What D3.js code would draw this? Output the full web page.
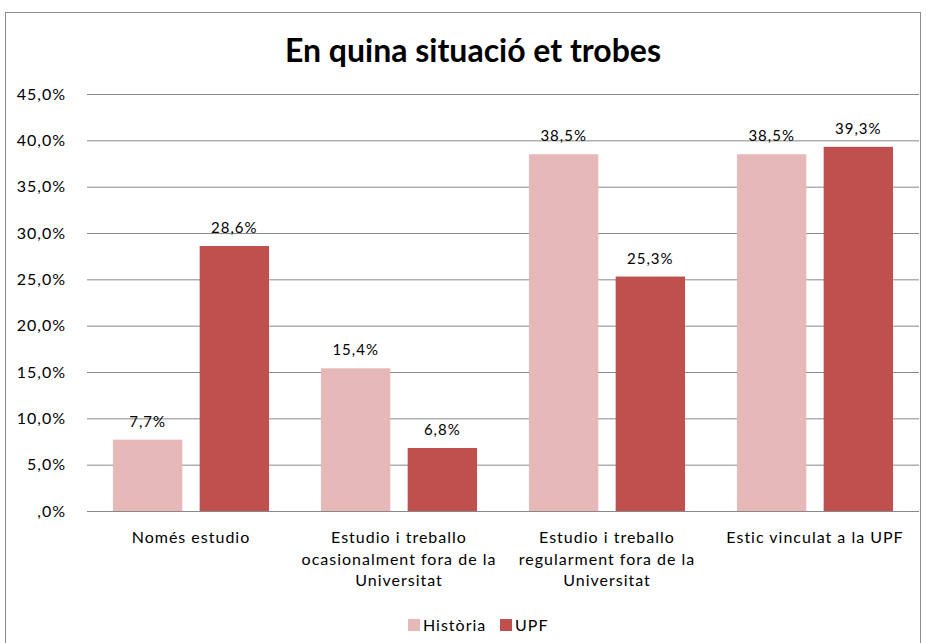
<!DOCTYPE html>
<html>
<head>
<meta charset="utf-8">
<script src="https://cdn.jsdelivr.net/npm/d3@7"></script>
<style>
  body { margin: 0; background: #fff; }
  text { font-family: Lato, "Open Sans", sans-serif; fill: #000; }
</style>
</head>
<body>
<div id="chart"></div>
<script>
// Data
const categories = [
  ["Només estudio"],
  ["Estudio i treballo", "ocasionalment fora de la", "Universitat"],
  ["Estudio i treballo", "regularment fora de la", "Universitat"],
  ["Estic vinculat a la UPF"]
];
const series = ["Història", "UPF"];
const historia = [7.7, 15.4, 38.5, 38.5];
const upf = [28.6, 6.8, 25.3, 39.3];
const yTicks = [0, 5, 10, 15, 20, 25, 30, 35, 40, 45];
const colors = ["#e6b9b8", "#c0504d"];

const width = 926, height = 643;
const margin = { left: 87, right: 7, top: 94, bottom: 132 };

const svg = d3.select("#chart").append("svg")
  .attr("width", width)
  .attr("height", height);

// frame
svg.append("rect")
  .attr("x", 5.5).attr("y", 12.5)
  .attr("width", 915).attr("height", 640)
  .attr("fill", "none").attr("stroke", "#8c8c8c");

svg.append("text")
  .attr("x", 473).attr("y", 62)
  .attr("text-anchor", "middle")
  .attr("font-size", 32)
  .attr("font-weight", "bold")
  .text("En quina situació et trobes");

var x = d3.scaleBand()
  .domain(d3.range(categories.length))
  .range([margin.left, width - margin.right]);

var x1 = d3.scaleBand()
  .domain(series)
  .range([0, x.bandwidth()])
  .paddingInner(0.2)
  .paddingOuter(0.3);

var y = d3.scaleLinear()
  .domain([0, 45])
  .range([height - margin.bottom, margin.top]);

// gridlines + y labels
var yAxis = svg.append("g")
  .attr("transform", "translate(" + margin.left + ",0)")
  .call(d3.axisLeft(y)
    .tickValues(yTicks)
    .tickSize(-(width - margin.left - margin.right))
    .tickPadding(21)
    .tickFormat(d => (d === 0 ? "" : d) + ",0%"));
yAxis.select(".domain").remove();
yAxis.selectAll(".tick line").attr("stroke", "#888");
yAxis.selectAll(".tick text")
  .attr("font-size", 16)
  .attr("letter-spacing", 1)
  .attr("fill", "#000");

var data = categories.map((c, i) => ({ i: i, vals: [historia[i], upf[i]] }));

var groups = svg.selectAll("g.cat")
  .data(data)
  .enter()
  .append("g")
    .attr("class", "cat")
    .attr("transform", d => "translate(" + x(d.i) + ",0)");

groups.selectAll("rect")
  .data(d => d.vals.map((v, k) => ({ s: series[k], v: v, k: k })))
  .enter()
  .append("rect")
    .attr("x", d => x1(d.s))
    .attr("width", x1.bandwidth())
    .attr("y", d => y(d.v))
    .attr("height", d => y(0) - y(d.v))
    .attr("fill", d => colors[d.k]);

groups.selectAll("text.val")
  .data(d => d.vals.map((v, k) => ({ s: series[k], v: v })))
  .enter()
  .append("text")
    .attr("class", "val")
    .attr("x", d => x1(d.s) + x1.bandwidth() / 2)
    .attr("y", d => y(d.v) - 13)
    .attr("text-anchor", "middle")
    .attr("font-size", 15)
    .attr("letter-spacing", 1)
    .text(d => d.v.toFixed(1).replace(".", ",") + "%");

// baseline
svg.append("line")
  .attr("x1", margin.left).attr("x2", width - margin.right)
  .attr("y1", y(0) + 0.5).attr("y2", y(0) + 0.5)
  .attr("stroke", "#888");

// category labels
groups.each(function(d) {
  var t = d3.select(this).append("text")
    .attr("text-anchor", "middle")
    .attr("font-size", 16)
    .attr("letter-spacing", 1);
  categories[d.i].forEach((line, j) => {
    t.append("tspan")
      .attr("x", x.bandwidth() / 2)
      .attr("y", 543 + j * 21.5)
      .text(line);
  });
});

// legend
var legend = svg.append("g");
var lx = [408, 500];
series.forEach((s, k) => {
  legend.append("rect")
    .attr("x", lx[k]).attr("y", 619)
    .attr("width", 12).attr("height", 12)
    .attr("fill", colors[k]);
  legend.append("text")
    .attr("x", lx[k] + 15).attr("y", 631)
    .attr("font-size", 16)
    .attr("letter-spacing", 1)
    .text(s);
});
</script>
</body>
</html>
